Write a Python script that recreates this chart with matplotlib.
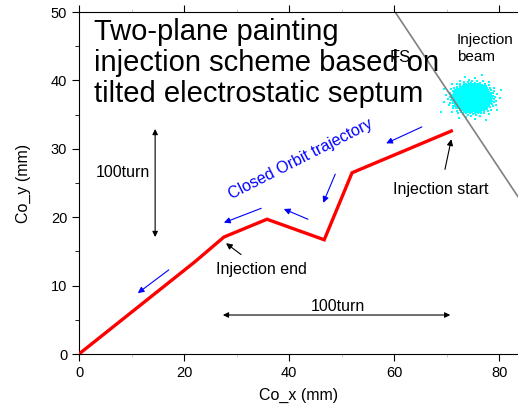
import matplotlib
matplotlib.use("Agg")
import matplotlib.pyplot as plt
import numpy as np

plt.rcParams['font.family'] = ['Liberation Sans', 'DejaVu Sans']

# closed orbit painting path (mm)
orbit_x = [0, 22.1, 27.6, 35.8, 46.7, 52.0, 70.9]
orbit_y = [0, 13.5, 17.1, 19.7, 16.7, 26.5, 32.6]

# tilted electrostatic septum line
septum_x = [60.2, 83.6]
septum_y = [50.0, 23.0]

# injection beam centre and rms size
beam_cx, beam_cy = 74.9, 37.4
beam_sx, beam_sy = 1.75, 1.0
n_part = 1000

# blue direction arrows: (x_from, y_from, x_to, y_to)
flow_arrows = [
    (17.1, 12.3, 11.2, 8.9),
    (34.7, 21.3, 27.6, 19.2),
    (43.6, 19.7, 39.0, 21.2),
    (48.8, 26.3, 46.5, 22.1),
    (65.3, 33.2, 58.5, 30.8),
]

fig = plt.figure(figsize=(5.18, 4.09), dpi=100)
ax = fig.add_axes([79/518, 55/409, 1 - 79/518, 342/409])

ax.plot(orbit_x, orbit_y, color='red', lw=2.4, solid_joinstyle='miter', zorder=3)

# beam particles laid out on a golden-angle spiral with gaussian radial profile
k = np.arange(n_part)
r = np.sqrt(-2 * np.log(1 - (k + 0.5) / n_part))
th = k * np.pi * (3 - np.sqrt(5))
bx = beam_cx + beam_sx * r * np.cos(th)
by = beam_cy + beam_sy * r * np.sin(th)
ax.scatter(bx, by, s=1.0, marker='s', color='cyan', linewidths=0, zorder=2)
ax.plot(septum_x, septum_y, color='#808080', lw=1.2, zorder=2.5)

for x0, y0, x1, y1 in flow_arrows:
    ax.annotate('', xy=(x1, y1), xytext=(x0, y0),
                arrowprops=dict(arrowstyle='-|>', color='blue', lw=0.8,
                                mutation_scale=9, shrinkA=0, shrinkB=0))

ax.text(2.9, 49.15, 'Two-plane painting\ninjection scheme based on\ntilted electrostatic septum',
        fontsize=21, va='top', ha='left', linespacing=1.15)
ax.text(59.2, 42.7, 'FS', fontsize=12, va='baseline', ha='left')
ax.text(72.0, 46.9, 'Injection\nbeam', fontsize=11, va='top', ha='left', linespacing=1.25)
ax.text(42.3, 28.5, 'Closed Orbit trajectory', fontsize=11.5, color='blue',
        rotation=27, ha='center', va='center', rotation_mode='anchor')

ax.annotate('Injection start', xy=(70.9, 31.4), xytext=(68.9, 24.1),
            fontsize=11.5, ha='center', va='center',
            arrowprops=dict(arrowstyle='-|>', color='black', lw=0.8,
                            mutation_scale=9, shrinkA=7, shrinkB=0))
ax.annotate('Injection end', xy=(28.0, 16.2), xytext=(34.7, 12.3),
            fontsize=11.5, ha='center', va='center',
            arrowprops=dict(arrowstyle='-|>', color='black', lw=0.8,
                            mutation_scale=9, shrinkA=6, shrinkB=0))

ax.annotate('', xy=(14.5, 32.9), xytext=(14.5, 17.1),
            arrowprops=dict(arrowstyle='<|-|>', color='black', lw=0.8,
                            mutation_scale=8, shrinkA=0, shrinkB=0))
ax.text(8.3, 26.5, '100turn', fontsize=11.5, ha='center', va='center')
ax.annotate('', xy=(27.4, 5.7), xytext=(70.7, 5.7),
            arrowprops=dict(arrowstyle='<|-|>', color='black', lw=0.8,
                            mutation_scale=8, shrinkA=0, shrinkB=0))
ax.text(49.3, 6.9, '100turn', fontsize=11.5, ha='center', va='center')

ax.set_xlim(0, 83.6)
ax.set_ylim(0, 50)
ax.set_xticks([0, 20, 40, 60, 80])
ax.set_xticks([10, 30, 50, 70], minor=True)
ax.set_yticks([0, 10, 20, 30, 40, 50])
ax.set_yticks([5, 15, 25, 35, 45], minor=True)
ax.tick_params(which='major', length=5, labelsize=10.5)
ax.tick_params(which='minor', length=3)
ax.tick_params(which='both', top=True, labeltop=False)
ax.tick_params(which='both', axis='x', top=True, length=2, color='#c0c0c0')
ax.tick_params(which='major', axis='x', bottom=True, length=5, color='black')
ax.spines['right'].set_visible(False)
ax.set_xlabel('Co_x (mm)', fontsize=11.5, labelpad=6)
ax.set_ylabel('Co_y (mm)', fontsize=11.5, labelpad=14)

fig.savefig('out.png', dpi=100)
